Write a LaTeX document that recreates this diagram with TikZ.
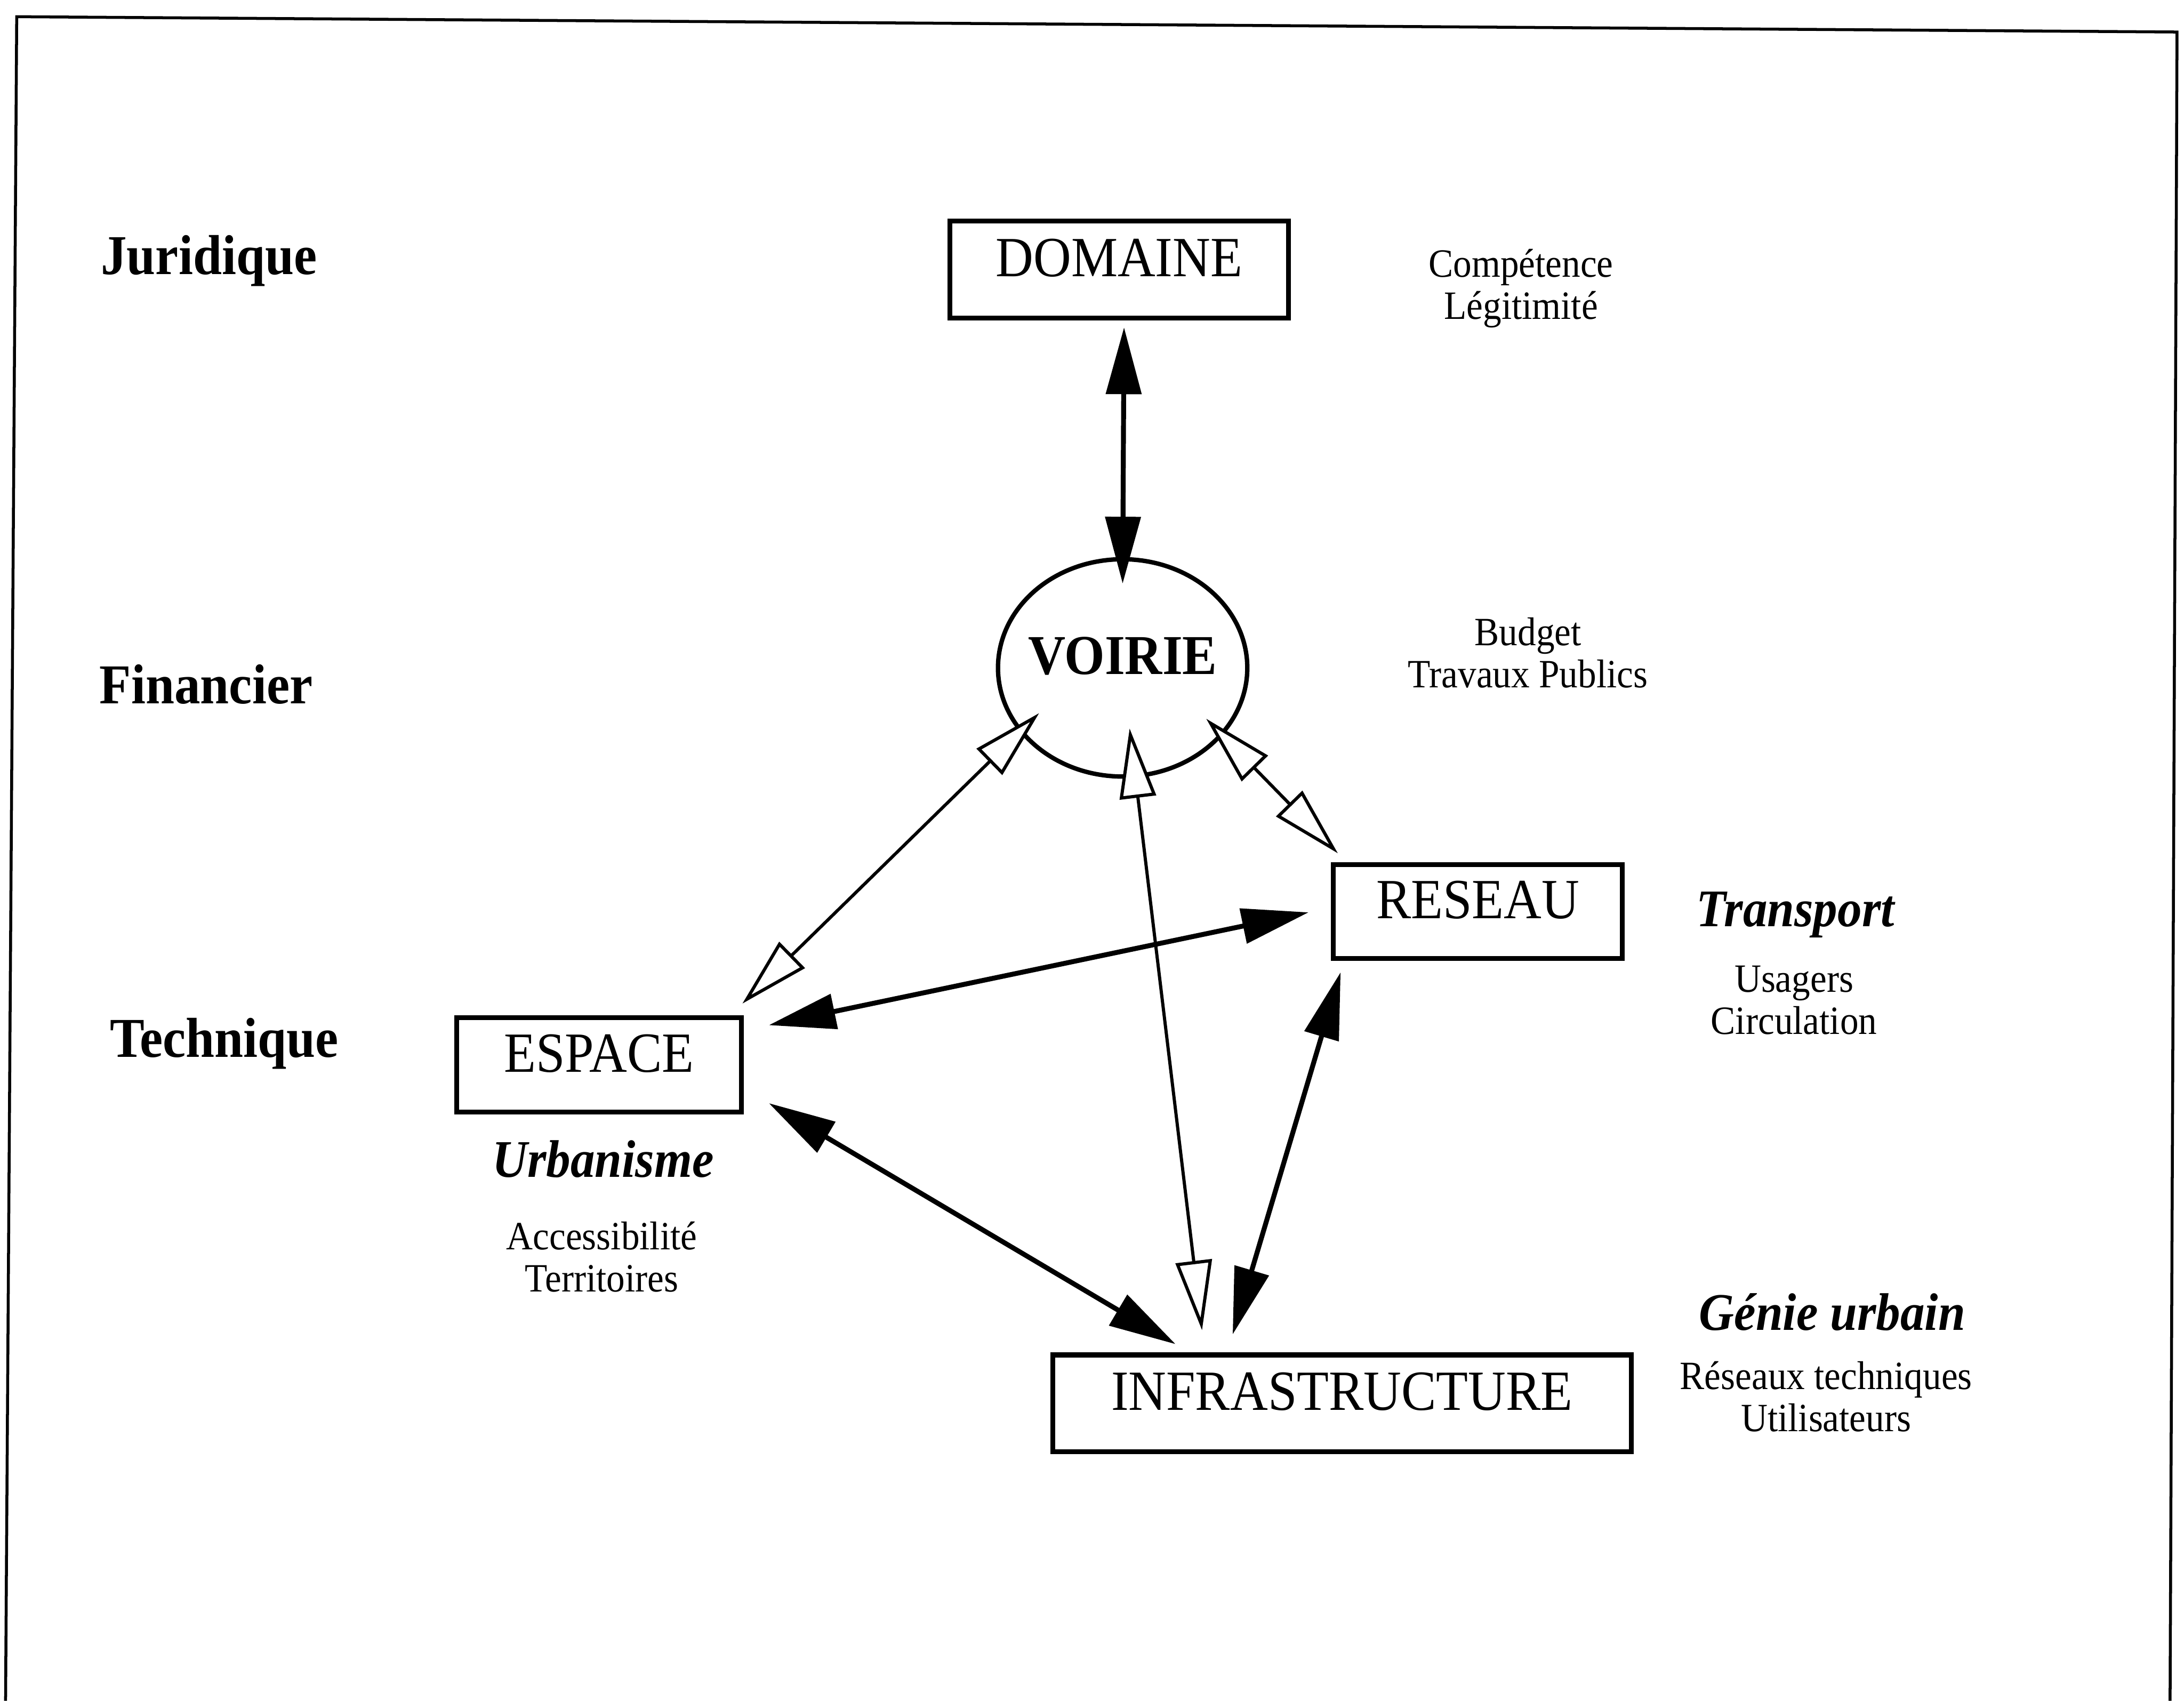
\documentclass[tikz,border=0pt]{standalone}
\usepackage{fontspec}
\setmainfont{Liberation Serif}[FakeStretch=0.92]
\usetikzlibrary{arrows.meta,shapes.geometric}

\begin{document}
\begin{tikzpicture}[
  x=0.1mm, y=-0.1mm,
  unit/.style={rectangle, draw, line width=1pt, inner sep=0pt,
               text height=2.7mm, text depth=1.7mm,
               font=\fontsize{11.6}{13}\selectfont},
  hub/.style={ellipse, draw, line width=0.9pt, inner ysep=0pt, inner xsep=-3mm,
              minimum width=17.9mm, minimum height=15.6mm,
              text height=2.7mm, text depth=1.8mm,
              font=\fontsize{11.5}{13}\selectfont\bfseries},
  tier/.style={anchor=base, font=\fontsize{11.5}{13}\selectfont\bfseries},
  field/.style={anchor=base, font=\fontsize{10.8}{12}\selectfont\bfseries\itshape},
  remark/.style={anchor=base, align=center, font=\fontsize{8.2}{8.6}\selectfont},
  fulltip/.tip={Triangle[length=4.8mm, width=2.5mm]},
  hollowtip/.tip={Triangle[open, fill=white, length=5mm, width=2.6mm]},
  strong/.style={fulltip-fulltip, line width=1pt},
  weak/.style={hollowtip-hollowtip, line width=0.65pt},
]
\useasboundingbox (0,0) rectangle (1568,1221);
\draw[line width=0.6pt] (4,1221) -- (12,12) -- (1563,23) -- (1558,1221);

\node[unit, minimum width=24.3mm,  minimum height=6.95mm] (domaine) at (803.5,193.5)  {DOMAINE};
\node[hub]                                                 (voirie)  at (806,479.5)    {VOIRIE};
\node[unit, minimum width=20.75mm, minimum height=6.75mm] (reseau)  at (1061,654.5)   {RESEAU};
\node[unit, minimum width=20.45mm, minimum height=6.75mm] (espace)  at (430,764.5)    {ESPACE};
\node[unit, minimum width=41.55mm, minimum height=6.95mm] (infra)   at (963.5,1007.5) {INFRASTRUCTURE};

\node[tier] (juridique) at (150,197) {Juridique};
\node[tier] (financier) at (148,505) {Financier};
\node[tier] (technique) at (161,759) {Technique};

\node[remark] (competence)    at (1092,229)    {Compétence\\Légitimité};
\node[remark] (budget)        at (1097,493.5)  {Budget\\Travaux Publics};
\node[field]  (transport)     at (1289,665)    {Transport};
\node[remark] (usagers)       at (1288,742.6)  {Usagers\\Circulation};
\node[field]  (urbanisme)     at (433,845)     {Urbanisme};
\node[remark] (accessibilite) at (432,927.5)   {Accessibilité\\Territoires};
\node[field]  (genie)         at (1315.5,955)  {Génie urbain};
\node[remark] (reseaux)       at (1311,1027.5) {Réseaux techniques\\Utilisateurs};

\draw[strong] ([shift={(3.5,5)}]domaine.south) -- ([shift={(0,-60.5)}]voirie.center);
\draw[weak]   ([shift={(-1,-8.5)}]espace.north east) -- ([shift={(-60,32.5)}]voirie.center);
\draw[weak]   ([shift={(5,43.5)}]voirie.center) -- ([shift={(109,-16)}]infra.north west);
\draw[weak]   ([shift={(60,36.5)}]voirie.center) -- ([shift={(5,-6.4)}]reseau.north west);
\draw[strong] ([shift={(18,7)}]espace.north east) -- ([shift={(-16,0.5)}]reseau.west);
\draw[strong] ([shift={(18,-8)}]espace.south east) -- ([shift={(90,-6)}]infra.north west);
\draw[strong] ([shift={(7,8)}]reseau.south west) -- ([shift={(131,-13)}]infra.north west);
\end{tikzpicture}
\end{document}
